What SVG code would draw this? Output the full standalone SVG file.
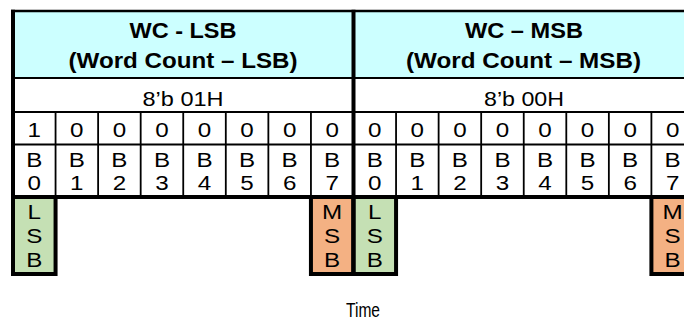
<svg xmlns="http://www.w3.org/2000/svg" width="684" height="320" viewBox="0 0 684 320">
<style>
.hd{font-family:"Liberation Sans",Arial,sans-serif;font-weight:bold;font-size:21.5px;text-anchor:middle;fill:#000}
.v{font-family:"Liberation Sans",Arial,sans-serif;font-size:20px;text-anchor:middle;fill:#000}
.c{font-family:"Liberation Sans",Arial,sans-serif;font-size:20.5px;text-anchor:middle;fill:#000}
.thin{stroke:#000;stroke-width:1.8;fill:none}
.thick{stroke:#000;stroke-width:4;fill:none}
.lsb{fill:#C5E0B4;stroke:#000;stroke-width:4}
.msb{fill:#F4B183;stroke:#000;stroke-width:4}
.time{font-family:"Liberation Sans Narrow","Liberation Sans",Arial,sans-serif;font-size:20px;text-anchor:middle;fill:#000}
</style>
<rect width="684" height="320" fill="#fff"/>
<g id="header-lsb">
<rect x="13" y="11" width="340.5" height="67" fill="#CCFFFF"/>
<text class="hd" x="183" y="38" textLength="107" lengthAdjust="spacingAndGlyphs">WC - LSB</text>
<text class="hd" x="183" y="68" textLength="229" lengthAdjust="spacingAndGlyphs">(Word Count – LSB)</text>
</g>
<g id="header-msb">
<rect x="353.5" y="11" width="340" height="67" fill="#CCFFFF"/>
<text class="hd" x="524" y="38" textLength="118" lengthAdjust="spacingAndGlyphs">WC – MSB</text>
<text class="hd" x="523.5" y="68" textLength="235" lengthAdjust="spacingAndGlyphs">(Word Count – MSB)</text>
</g>
<g id="value-lsb">
<text class="v" x="183" y="106" textLength="81" lengthAdjust="spacingAndGlyphs">8’b 01H</text>
</g>
<g id="value-msb">
<text class="v" x="524" y="106" textLength="80" lengthAdjust="spacingAndGlyphs">8’b 00H</text>
</g>
<g id="lsb-box-1"><rect class="lsb" x="13" y="197" width="42.56" height="77"/></g>
<g id="msb-box-1"><rect class="msb" x="310.94" y="197" width="42.56" height="77"/></g>
<g id="lsb-box-2"><rect class="lsb" x="353.5" y="197" width="42.56" height="77"/></g>
<g id="msb-box-2"><rect class="msb" x="651.4" y="197" width="42.56" height="77"/></g>
<g id="grid">
<line class="thin" x1="11" y1="11" x2="684" y2="11" style="stroke-width:2.6"/>
<line class="thin" x1="13" y1="78" x2="684" y2="78"/>
<line class="thin" x1="13" y1="112" x2="684" y2="112"/>
<line class="thin" x1="13" y1="144.5" x2="684" y2="144.5"/>
<path class="thin" d="M55.56 112V197M98.12 112V197M140.68 112V197M183.24 112V197M225.8 112V197M268.36 112V197M310.94 112V197M396.06 112V197M438.62 112V197M481.18 112V197M523.74 112V197M566.3 112V197M608.86 112V197M651.4 112V197"/>
<line class="thick" x1="11" y1="197" x2="684" y2="197"/>
<line class="thick" x1="13" y1="9.7" x2="13" y2="276"/>
<line class="thick" x1="353.5" y1="9.7" x2="353.5" y2="276"/>
</g>
<g id="cells" transform="scale(1.18 1)">
<text class="c" x="29.05" y="137">1</text>
<text class="c" x="65.12" y="137">0</text>
<text class="c" x="101.19" y="137">0</text>
<text class="c" x="137.25" y="137">0</text>
<text class="c" x="173.32" y="137">0</text>
<text class="c" x="209.39" y="137">0</text>
<text class="c" x="245.46" y="137">0</text>
<text class="c" x="281.53" y="137">0</text>
<text class="c" x="317.61" y="137">0</text>
<text class="c" x="353.68" y="137">0</text>
<text class="c" x="389.75" y="137">0</text>
<text class="c" x="425.81" y="137">0</text>
<text class="c" x="461.88" y="137">0</text>
<text class="c" x="497.95" y="137">0</text>
<text class="c" x="534.02" y="137">0</text>
<text class="c" x="570.08" y="137">0</text>
<text class="c" x="29.05" y="167">B</text><text class="c" x="29.05" y="190">0</text>
<text class="c" x="65.12" y="167">B</text><text class="c" x="65.12" y="190">1</text>
<text class="c" x="101.19" y="167">B</text><text class="c" x="101.19" y="190">2</text>
<text class="c" x="137.25" y="167">B</text><text class="c" x="137.25" y="190">3</text>
<text class="c" x="173.32" y="167">B</text><text class="c" x="173.32" y="190">4</text>
<text class="c" x="209.39" y="167">B</text><text class="c" x="209.39" y="190">5</text>
<text class="c" x="245.46" y="167">B</text><text class="c" x="245.46" y="190">6</text>
<text class="c" x="281.53" y="167">B</text><text class="c" x="281.53" y="190">7</text>
<text class="c" x="317.61" y="167">B</text><text class="c" x="317.61" y="190">0</text>
<text class="c" x="353.68" y="167">B</text><text class="c" x="353.68" y="190">1</text>
<text class="c" x="389.75" y="167">B</text><text class="c" x="389.75" y="190">2</text>
<text class="c" x="425.81" y="167">B</text><text class="c" x="425.81" y="190">3</text>
<text class="c" x="461.88" y="167">B</text><text class="c" x="461.88" y="190">4</text>
<text class="c" x="497.95" y="167">B</text><text class="c" x="497.95" y="190">5</text>
<text class="c" x="534.02" y="167">B</text><text class="c" x="534.02" y="190">6</text>
<text class="c" x="570.08" y="167">B</text><text class="c" x="570.08" y="190">7</text>
<text class="c" x="29.05" y="219">L</text><text class="c" x="29.05" y="243">S</text><text class="c" x="29.05" y="267">B</text>
<text class="c" x="281.53" y="219">M</text><text class="c" x="281.53" y="243">S</text><text class="c" x="281.53" y="267">B</text>
<text class="c" x="317.61" y="219">L</text><text class="c" x="317.61" y="243">S</text><text class="c" x="317.61" y="267">B</text>
<text class="c" x="570.08" y="219">M</text><text class="c" x="570.08" y="243">S</text><text class="c" x="570.08" y="267">B</text>
</g>
<text class="time" x="363" y="317" textLength="34" lengthAdjust="spacingAndGlyphs">Time</text>
</svg>
